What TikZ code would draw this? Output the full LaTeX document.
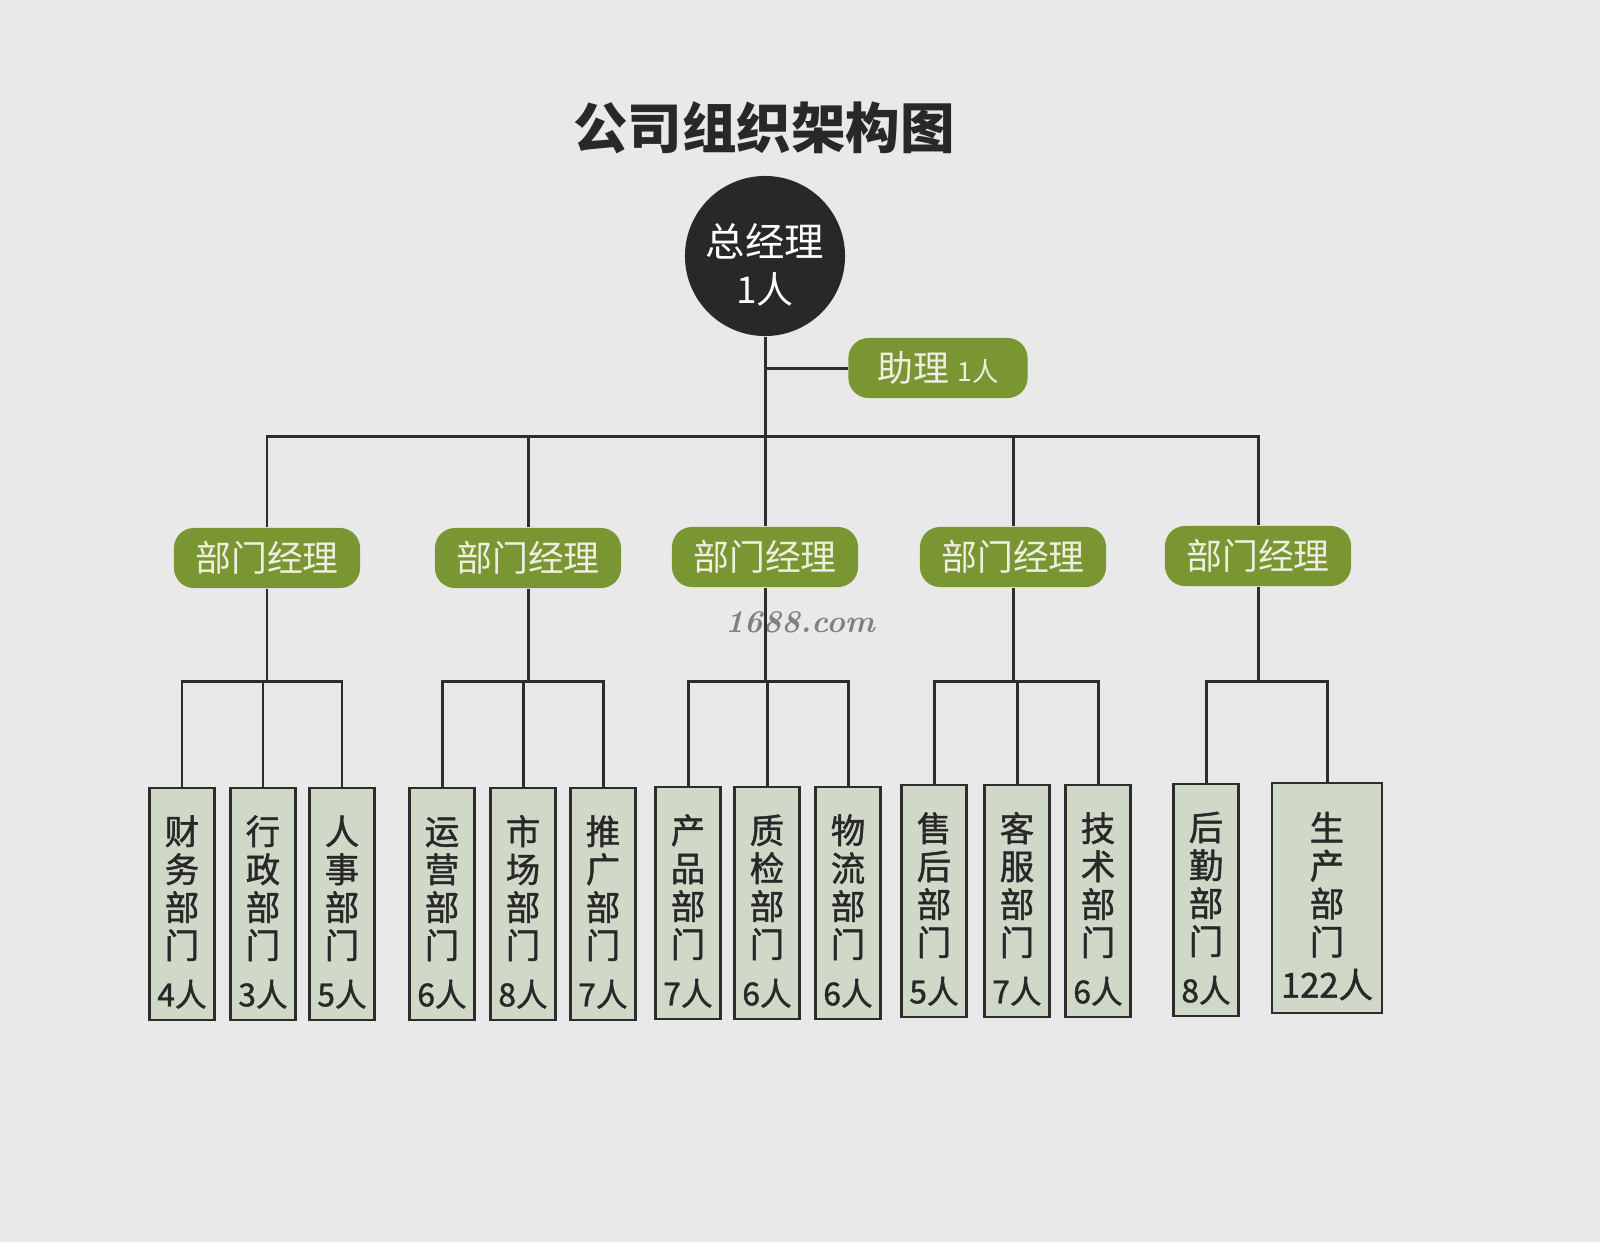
\documentclass[tikz,border=0pt]{standalone}
\usepackage{fontspec}
\newfontfamily\cjk{Noto Sans CJK SC}
\newfontfamily\cjkm{Noto Sans CJK SC}[FakeBold=1.3]
\usetikzlibrary{positioning}
\definecolor{orgbg}{RGB}{233,233,234}
\definecolor{orggreen}{RGB}{122,150,50}
\definecolor{orgleaf}{RGB}{208,216,200}
\definecolor{orgdark}{RGB}{40,40,40}
\definecolor{orgline}{RGB}{45,45,45}
\definecolor{orgtext}{RGB}{238,238,225}

\begin{document}
\begin{tikzpicture}[
  x=0.01cm, y=-0.01cm,
  font=\cjk,
  link/.style={draw=orgline, line width=0.85pt},
  boss/.style={circle, fill=orgdark, text=white, minimum size=1.6cm, inner sep=0pt, align=center, font=\cjk\fontsize{11.2}{13.3}\selectfont},
  mgr/.style={rounded corners=0.2cm, fill=orggreen, text=orgtext, minimum width=1.86cm, minimum height=0.6cm, inner sep=0pt, font=\cjk\fontsize{10.2}{12}\selectfont},
  dept/.style={draw=orgline, line width=0.8pt, fill=orgleaf, text=orgdark, minimum width=0.65cm, minimum height=2.32cm, inner sep=0pt, align=center, font=\cjkm\fontsize{9.8}{10.8}\selectfont}
]
% paper
\fill[orgbg] (0,0) rectangle (1600,1242);
\useasboundingbox (0,0) rectangle (1600,1242);

% title and top
\node[font=\cjk\bfseries\fontsize{15.5}{18}\selectfont, text=orgdark] (title) at (764,128) {公司组织架构图};
\node[boss] (gm) at (765,256) {\rule{0pt}{0.5cm}总经理\\{\fontsize{10.5}{12}\selectfont 1人}};
\node[mgr, minimum width=1.79cm] (asst) at (938,368) {助理 {\fontsize{7.5}{9}\selectfont 1人}};

% department managers
\node[mgr] (m1) at (267,558) {部门经理};
\node[mgr] (m2) at (528,558) {部门经理};
\node[mgr] (m3) at (765,557) {部门经理};
\node[mgr] (m4) at (1013,557) {部门经理};
\node[mgr] (m5) at (1258,556) {部门经理};

% departments
\node[dept] (d11) at (182,904) {\rule{0pt}{0.45cm}财\\务\\部\\门\\[1mm]{\fontsize{9}{10}\selectfont 4人}};
\node[dept] (d12) at (263,904) {\rule{0pt}{0.45cm}行\\政\\部\\门\\[1mm]{\fontsize{9}{10}\selectfont 3人}};
\node[dept] (d13) at (342,904) {\rule{0pt}{0.45cm}人\\事\\部\\门\\[1mm]{\fontsize{9}{10}\selectfont 5人}};
\node[dept] (d21) at (442,904) {\rule{0pt}{0.45cm}运\\营\\部\\门\\[1mm]{\fontsize{9}{10}\selectfont 6人}};
\node[dept] (d22) at (523,904) {\rule{0pt}{0.45cm}市\\场\\部\\门\\[1mm]{\fontsize{9}{10}\selectfont 8人}};
\node[dept] (d23) at (603,904) {\rule{0pt}{0.45cm}推\\广\\部\\门\\[1mm]{\fontsize{9}{10}\selectfont 7人}};
\node[dept] (d31) at (688,903) {\rule{0pt}{0.45cm}产\\品\\部\\门\\[1mm]{\fontsize{9}{10}\selectfont 7人}};
\node[dept] (d32) at (767,903) {\rule{0pt}{0.45cm}质\\检\\部\\门\\[1mm]{\fontsize{9}{10}\selectfont 6人}};
\node[dept] (d33) at (848,903) {\rule{0pt}{0.45cm}物\\流\\部\\门\\[1mm]{\fontsize{9}{10}\selectfont 6人}};
\node[dept] (d41) at (934,901) {\rule{0pt}{0.45cm}售\\后\\部\\门\\[1mm]{\fontsize{9}{10}\selectfont 5人}};
\node[dept] (d42) at (1017,901) {\rule{0pt}{0.45cm}客\\服\\部\\门\\[1mm]{\fontsize{9}{10}\selectfont 7人}};
\node[dept] (d43) at (1098,901) {\rule{0pt}{0.45cm}技\\术\\部\\门\\[1mm]{\fontsize{9}{10}\selectfont 6人}};
\node[dept] (d51) at (1206,900) {\rule{0pt}{0.45cm}后\\勤\\部\\门\\[1mm]{\fontsize{9}{10}\selectfont 8人}};
\node[dept, minimum width=1.1cm, minimum height=2.3cm] (d52) at (1327,898) {\rule{0pt}{0.45cm}生\\产\\部\\门\\[0.5mm]{\fontsize{9.8}{10}\selectfont 122人}};

% watermark
\node[font=\itshape\bfseries\fontsize{9}{11}\selectfont, text=black!50] (mark) at (800,622) {1688.com};

% bus points
\coordinate (top) at (765,436);
\coordinate (b1) at (267,681);
\coordinate (b2) at (528,681);
\coordinate (b3) at (765,681);
\coordinate (b4) at (1013,681);
\coordinate (b5) at (1261,681);

% connectors
\draw[link] (gm.south) -- (top);
\draw[link] (gm.south |- asst.west) -- (asst.west);
\draw[link] (m1.north) |- (top) -| (m5.north);
\draw[link] (m2.north) -- (m2.north |- top);
\draw[link] (m3.north) -- (top);
\draw[link] (m4.north) -- (m4.north |- top);

\draw[link] (m1.south) -- (b1);
\draw[link] (d11.north) |- (b1) -| (d13.north);
\draw[link] (d12.north) -- (d12.north |- b1);
\draw[link] (m2.south) -- (b2);
\draw[link] (d21.north) |- (b2) -| (d23.north);
\draw[link] (d22.north) -- (d22.north |- b2);
\draw[link] (m3.south) -- (b3);
\draw[link] (d31.north) |- (b3) -| (d33.north);
\draw[link] (d32.north) -- (d32.north |- b3);
\draw[link] (m4.south) -- (b4);
\draw[link] (d41.north) |- (b4) -| (d43.north);
\draw[link] (d42.north) -- (d42.north |- b4);
\draw[link] (m5.south) -- (m5.south |- b5);
\draw[link] (d51.north) |- (b5) -| (d52.north);
\end{tikzpicture}
\end{document}
